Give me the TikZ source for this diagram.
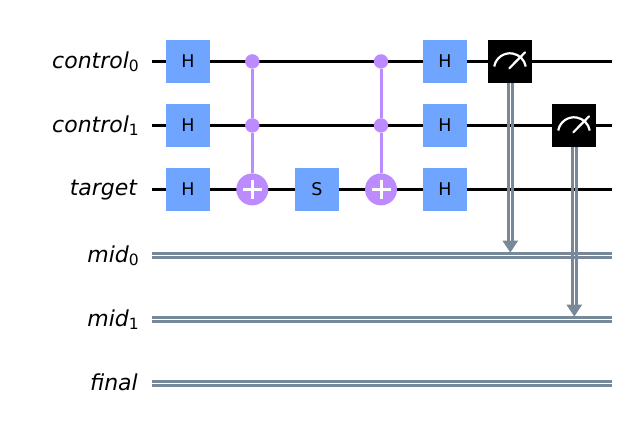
\documentclass[tikz,border=0pt]{standalone}
\usepackage{fontspec}
\setmainfont{DejaVu Sans}
\usetikzlibrary{calc}
\definecolor{gatecol}{HTML}{6FA4FF}
\definecolor{cxcol}{HTML}{BB8BFF}
\definecolor{clcol}{HTML}{778899}
\newcommand{\wlabel}[2]{\textit{#1}\raisebox{-3.6pt}{\fontsize{15.5}{15}\selectfont #2}}
\tikzset{
  x=1pt,y=-1pt,
  wirelabel/.style={anchor=base east,inner sep=0pt,font=\fontsize{22}{24}\selectfont},
  qwire/.style={draw=black,line width=2.7pt},
  clwire/.style={draw=clcol,line width=2.7pt},
  gatebox/.style={fill=gatecol,minimum width=44pt,minimum height=43.5pt,inner sep=0pt,font=\fontsize{17.5}{18}\selectfont},
  measbox/.style={fill=black,minimum width=44pt,minimum height=43.5pt,inner sep=0pt},
  ctrldot/.style={circle,fill=cxcol,minimum size=14.4pt,inner sep=0pt},
  tgtdot/.style={circle,fill=cxcol,minimum size=32pt,inner sep=0pt},
  cxline/.style={draw=cxcol,line width=3pt},
  plusmark/.style={draw=white,line width=3pt},
  dial/.style={draw=white,line width=2.2pt},
  arrowfill/.style={fill=clcol},
}
\begin{document}
\begin{tikzpicture}
\useasboundingbox (0,0) rectangle (626,432);
% labels
\node[wirelabel] (lc0) at (139,68.3) {\wlabel{control}{0}};
\node[wirelabel] (lc1) at (139,132.3) {\wlabel{control}{1}};
\node[wirelabel] (lt) at (138,195.6) {\textit{target}};
\node[wirelabel] (lm0) at (139,262.3) {\wlabel{mid}{0}};
\node[wirelabel] (lm1) at (139,326.3) {\wlabel{mid}{1}};
\node[wirelabel] (lf) at (138,390.6) {\textit{final}};
% wire ends
\coordinate (q0a) at (152,61.4); \coordinate (q0b) at (612,61.4);
\coordinate (q1a) at (152,125.4); \coordinate (q1b) at (612,125.4);
\coordinate (q2a) at (152,189.4); \coordinate (q2b) at (612,189.4);
\coordinate (c0a) at (152,255.5); \coordinate (c0b) at (612,255.5);
\coordinate (c1a) at (152,319.5); \coordinate (c1b) at (612,319.5);
\coordinate (c2a) at (152,383.5); \coordinate (c2b) at (612,383.5);
\draw[qwire] (q0a) -- (q0b);
\draw[qwire] (q1a) -- (q1b);
\draw[qwire] (q2a) -- (q2b);
\foreach \w in {c0,c1,c2}{
  \draw[clwire] ([yshift=2pt]\w a) -- ([yshift=2pt]\w b);
  \draw[clwire] ([yshift=-2pt]\w a) -- ([yshift=-2pt]\w b);
}
% H gates
\node[gatebox] (h00) at (188,61.4) {H};
\node[gatebox] (h01) at (188,125.4) {H};
\node[gatebox] (h02) at (188,189.6) {H};
\node[gatebox] (s2) at (317,189.6) {S};
\node[gatebox] (h10) at (445,61.4) {H};
\node[gatebox] (h11) at (445,125.4) {H};
\node[gatebox] (h12) at (445,189.6) {H};
% CX gates
\node[ctrldot] (a0) at (252.3,61.4) {};
\node[ctrldot] (a1) at (252.3,125.4) {};
\node[tgtdot] (at) at (252.3,189.4) {};
\draw[cxline] (a0) -- (a1);
\draw[cxline] (a1) -- (at);
\draw[plusmark] ([xshift=-9.5pt]at.center) -- ([xshift=9.5pt]at.center);
\draw[plusmark] ([yshift=-9.5pt]at.center) -- ([yshift=9.5pt]at.center);
\node[ctrldot] (b0) at (381,61.4) {};
\node[ctrldot] (b1) at (381,125.4) {};
\node[tgtdot] (bt) at (381,189.4) {};
\draw[cxline] (b0) -- (b1);
\draw[cxline] (b1) -- (bt);
\draw[plusmark] ([xshift=-9.5pt]bt.center) -- ([xshift=9.5pt]bt.center);
\draw[plusmark] ([yshift=-9.5pt]bt.center) -- ([yshift=9.5pt]bt.center);
% measurements
\node[measbox] (m0) at (510,61.4) {};
\node[measbox] (m1) at (574,125.4) {};
\coordinate (t0) at (510.3,252.5);
\coordinate (t1) at (574.3,316.5);
\foreach \m/\t in {m0/t0,m1/t1}{
  \draw[clwire] ([xshift=-2pt]\m.south -| \t) -- ([shift={(-2,-11)}]\t);
  \draw[clwire] ([xshift=2pt]\m.south -| \t) -- ([shift={(2,-11)}]\t);
  \draw[dial] ([shift={(-15.76,5.1)}]\m.center) arc[start angle=190,end angle=350,radius=16];
  \draw[dial,line cap=round] ([shift={(-0.7,6.9)}]\m.center) -- ([shift={(15,-9)}]\m.center);
  \fill[arrowfill] ([shift={(-8,-12)}]\t) -- ([shift={(8,-12)}]\t) -- (\t) -- cycle;
}
\end{tikzpicture}
\end{document}
